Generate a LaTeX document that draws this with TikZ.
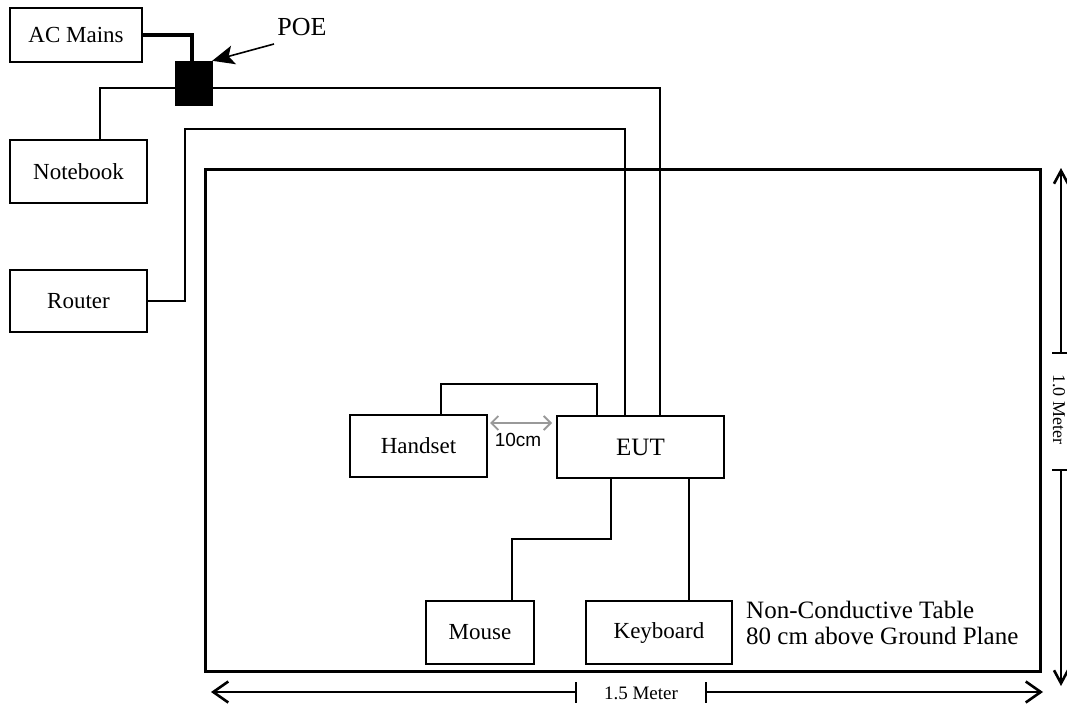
\documentclass[tikz,border=0pt]{standalone}
\usepackage{fontspec}
\setmainfont{Liberation Serif}
\newfontfamily\arialfont{Liberation Sans}
\usetikzlibrary{arrows.meta,calc}
\begin{document}
\begin{tikzpicture}[x=1pt,y=-1pt,
  box/.style={draw,line width=1.4pt,inner sep=0pt,font=\fontsize{23}{27}\selectfont},
  cable/.style={line width=1.4pt},
  dimline/.style={line width=1.3pt},
  dimtip/.style={-{Straight Barb[length=15pt,width=21pt,line width=2.6pt]}},
  vdimtip/.style={-{Straight Barb[length=13pt,width=14pt,line width=2.6pt]}},
  lbl/.style={font=\fontsize{19}{22}\selectfont,inner sep=0pt}]
\useasboundingbox (0,0) rectangle (1067,706);
% table
\node[draw,line width=3pt,minimum width=835pt,minimum height=502pt,inner sep=0pt] (tbl) at (622.5,420) {};
% devices
\node[box,minimum width=132pt,minimum height=54pt] (ac) at (76,35) {AC Mains};
\node[box,minimum width=137pt,minimum height=63pt] (nb) at (78.5,171.5) {Notebook};
\node[box,minimum width=137pt,minimum height=62pt] (rt) at (78.5,301) {Router};
\node[box,minimum width=137pt,minimum height=62pt] (hs) at (418.5,446) {Handset};
\node[box,minimum width=167pt,minimum height=62pt,font=\fontsize{25}{29}\selectfont] (eut) at (640.5,447) {EUT};
\node[box,minimum width=108pt,minimum height=63pt] (ms) at (480,632.5) {Mouse};
\node[box,minimum width=146pt,minimum height=63pt] (kb) at (659,632.5) {Keyboard};
\node[fill=black,draw,minimum width=37pt,minimum height=44pt,inner sep=0pt] (poe) at (193.5,83) {};
\node[font=\fontsize{26}{30}\selectfont,inner sep=0pt] (poelbl) at (302,27) {POE};
% note
\node[anchor=base west,inner sep=0pt,font=\fontsize{25}{29}\selectfont] (note1) at (746,618) {Non-Conductive Table};
\node[anchor=base west,inner sep=0pt,font=\fontsize{25}{29}\selectfont] (note2) at (746,644) {80 cm above Ground Plane};
% cables
\draw[line width=3.5pt] (ac.east) -| (poe.north -| 192,0);
\coordinate (pa) at (274,44);
\draw[-{Stealth[length=22pt,width=19pt,inset=5pt]},line width=1.6pt] (pa) -- (poe.north east);
\draw[cable] (poe.west |- 0,88) -| (nb.north -| 100,0);
\draw[cable] (poe.east |- 0,88) -| (eut.north -| 660,0);
\draw[cable] (rt.east) -| (185,129) -| (eut.north -| 625,0);
\draw[cable] (hs.north -| 441,0) |- (597,384) -- (eut.north -| 597,0);
\draw[cable] (eut.south -| 611,0) |- (512,539) -- (ms.north -| 512,0);
\draw[cable] (eut.south -| 689,0) -- (kb.north -| 689,0);
% 10cm
\coordinate (g1) at (490,423);
\coordinate (g2) at (552,423);
\draw[gray!80,line width=1.6pt,{Straight Barb[length=7pt,width=14pt,line width=1.8pt]}-{Straight Barb[length=7pt,width=14pt,line width=1.8pt]}] (g1) -- (g2);
\node[font=\arialfont\fontsize{19}{22}\selectfont,inner sep=0pt] (tencm) at (518,440) {10cm};
% horizontal dimension
\node[lbl] (dimh) at (641,693) {1.5 Meter};
\coordinate (h1) at (576,692);
\coordinate (h2) at (706,692);
\coordinate (hL) at (211,692);
\coordinate (hR) at (1043,692);
\draw[dimline,dimtip] (h1) -- (hL);
\draw[dimline,dimtip] (h2) -- (hR);
\draw[dimline] (576,682) -- (576,703);
\draw[dimline] (706,682) -- (706,703);
% vertical dimension
\node[lbl,rotate=-90,font=\fontsize{18}{21}\selectfont] (dimv) at (1059,409) {1.0 Meter};
\coordinate (v1) at (1061,353);
\coordinate (v2) at (1061,470);
\coordinate (vT) at (1061,168);
\coordinate (vB) at (1061,686);
\draw[dimline,vdimtip] (v1) -- (vT);
\draw[dimline,vdimtip] (v2) -- (vB);
\draw[dimline] (1052,353) -- (1067,353);
\draw[dimline] (1052,470) -- (1067,470);
\end{tikzpicture}
\end{document}
